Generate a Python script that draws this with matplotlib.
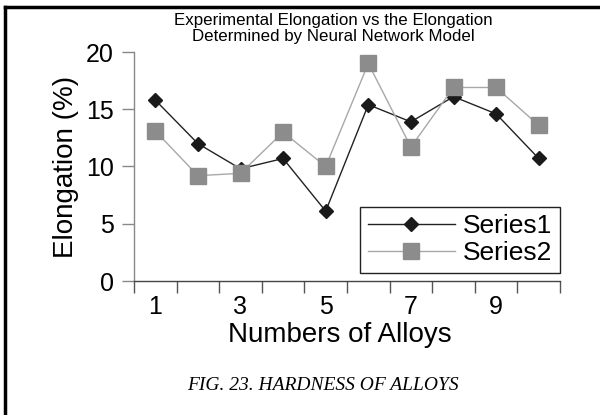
import matplotlib
matplotlib.use("Agg")
import matplotlib.pyplot as plt
from matplotlib.lines import Line2D
import numpy as np

alloys = [1, 2, 3, 4, 5, 6, 7, 8, 9, 10]
series1 = [15.8, 12.0, 9.8, 10.7, 6.1, 15.4, 13.9, 16.1, 14.6, 10.7]
series2 = [13.1, 9.2, 9.4, 13.0, 10.0, 19.0, 11.7, 16.9, 16.9, 13.6]
xtick_labels = ["1", "3", "5", "7", "9"]
yticks = [0, 5, 10, 15, 20]

plt.rcParams['font.family'] = ['Liberation Sans', 'DejaVu Sans']

fig = plt.figure(figsize=(6.0, 4.15), dpi=100)
ax = fig.add_axes([134/600, 1-281/415, (560-134)/600, (281-52)/415])

ax.plot(alloys, series1, color='#222222', lw=1.0, marker='D', markersize=7.6,
        markerfacecolor='#1a1a1a', markeredgecolor='#1a1a1a', label='Series1', zorder=3)
ax.plot(alloys, series2, color='#a8a8a8', lw=1.0, marker='s', markersize=11,
        markerfacecolor='#8c8c8c', markeredgecolor='#8c8c8c', label='Series2', zorder=4)

ax.set_xlim(0.5, 10.5)
ax.set_ylim(0, 20)
ax.set_yticks(yticks)
ax.set_yticklabels([str(v) for v in yticks], fontsize=18)
ax.set_xticks([1, 3, 5, 7, 9])
ax.set_xticklabels(xtick_labels, fontsize=18)
ax.tick_params(axis='x', length=0, pad=10)
ax.set_xticks(np.arange(0.5, 11.0, 1.0), minor=True)
ax.tick_params(axis='x', which='minor', length=8.5, width=1.0, color='#555555', direction='out')
ax.tick_params(axis='y', length=8.6, width=1.0, color='#888888', direction='out', pad=5.8)

for s in ['top', 'right']:
    ax.spines[s].set_visible(False)
ax.spines['left'].set_color('#888888')
ax.spines['bottom'].set_color('#444444')
ax.spines['left'].set_linewidth(1.0)
ax.spines['bottom'].set_linewidth(1.0)

ax.set_xlabel('Numbers of Alloys', fontsize=20, labelpad=2)
ax.xaxis.label.set_x((340-134)/426)
ax.set_ylabel('Elongation (%)', fontsize=20, labelpad=5)

leg = ax.legend(loc='lower right', bbox_to_anchor=(1.0, 8/229), fontsize=19,
                frameon=True, fancybox=False, edgecolor='#222222', framealpha=1,
                borderpad=0.3, handlelength=3.3, handletextpad=0.3, labelspacing=0.1,
                borderaxespad=0)
leg.get_frame().set_linewidth(1.0)

fig.text(333/600, 1-20/415, 'Experimental Elongation vs the Elongation', ha='center', va='center', fontsize=12.2)
fig.text(333/600, 1-37/415, 'Determined by Neural Network Model', ha='center', va='center', fontsize=12.2)
fig.text(323/600, 1-385/415, 'FIG. 23. HARDNESS OF ALLOYS', ha='center', va='center',
         fontsize=14, family=['Liberation Serif', 'DejaVu Serif'], style='italic')

fig.add_artist(Line2D([5/600, 5/600], [0, 1-7/415], transform=fig.transFigure, color='black', lw=2.5))
fig.add_artist(Line2D([5/600, 1], [1-7/415, 1-7/415], transform=fig.transFigure, color='black', lw=2.5))

fig.savefig('out.png', dpi=100)
